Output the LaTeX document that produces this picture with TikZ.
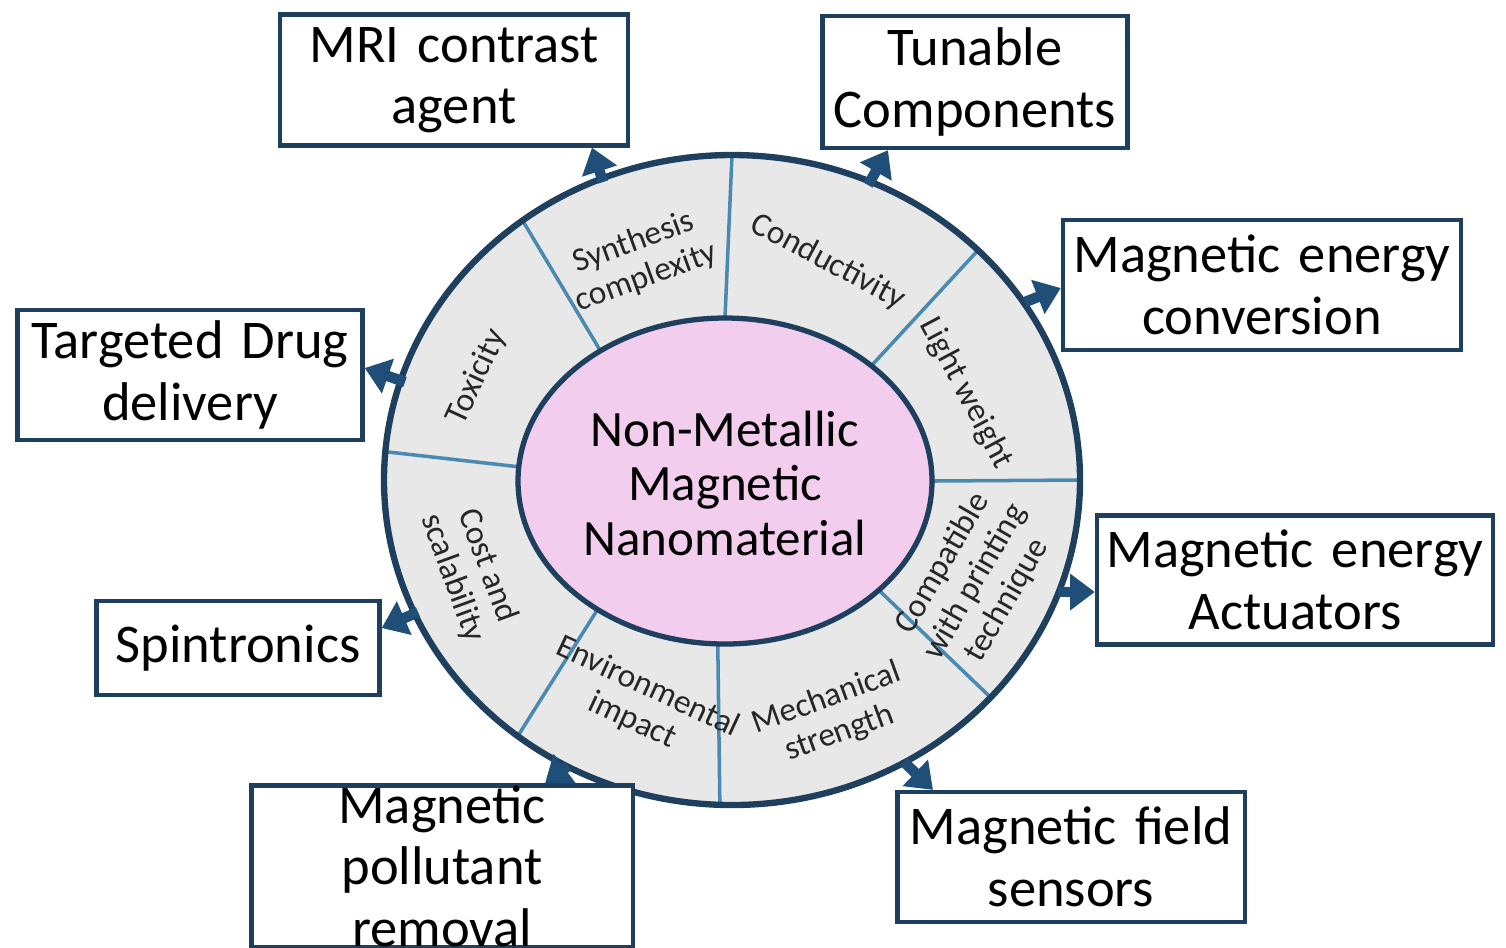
\documentclass[tikz,border=0pt]{standalone}
\usepackage{fontspec}
\setmainfont{Carlito}
\usetikzlibrary{arrows.meta,calc}
\definecolor{navy}{HTML}{1F3F5F}
\definecolor{arr}{HTML}{1F4E79}
\definecolor{seg}{HTML}{E8E8E8}
\definecolor{divl}{HTML}{4A8AB0}
\definecolor{pinkf}{HTML}{F2CDEE}
\begin{document}
\begin{tikzpicture}[x=0.01cm,y=-0.01cm,
 box/.style={draw=navy,line width=1.2pt,fill=white,align=center,font=\fontsize{15.5}{17.5}\selectfont,inner sep=0pt},
 seglab/.style={align=center,font=\fontsize{9.5}{10.5}\selectfont,text=black!85},
 ar/.style={draw=arr,line width=3pt,-{Triangle[length=7pt,width=10pt]}}]
\useasboundingbox (0,0) rectangle (1506,947);
% outer ring
\fill[seg] (732,480) ellipse [x radius=348,y radius=325];
\foreach \a in {90,127,45,0,-42,-92,-128,175}{
 \draw[divl,line width=1pt] ($(725,481)+(\a:207 and -163)$) -- ($(732,480)+(\a:348 and -325)$);}
\draw[navy,line width=1.8pt] (732,480) ellipse [x radius=348,y radius=325];
\filldraw[fill=pinkf,draw=navy,line width=1.5pt] (725,481) ellipse [x radius=207,y radius=163];
\node[align=center,font=\fontsize{14.5}{15.5}\selectfont] (c) at (725,483) {Non-Metallic\\Magnetic\\Nanomaterial};
% segment labels
\node[seglab,rotate=20] (s1) at (640,260) {Synthesis\\complexity};
\node[seglab,rotate=-28] (s2) at (828,262) {Conductivity};
\node[seglab,rotate=-62] (s3) at (966,393) {Light weight};
\node[seglab,rotate=60] (s4) at (975,582) {Compatible\\with printing\\technique};
\node[seglab,rotate=20] (s5) at (833,716) {Mechanical\\strength};
\node[seglab,rotate=-25] (s6) at (640,704) {Environmental\\impact};
\node[seglab,rotate=-70] (s7) at (470,572) {Cost and\\scalability};
\node[seglab,rotate=65] (s8) at (477,377) {Toxicity};
% boxes
\node[box,text width=3.48cm,minimum height=1.31cm] (b1) at (454,80) {MRI contrast\\agent};
\node[box,text width=3.05cm,minimum height=1.32cm] (b2) at (975,82) {Tunable\\Components};
\node[box,text width=3.98cm,minimum height=1.30cm] (b3) at (1262,285) {Magnetic energy\\conversion};
\node[box,text width=3.45cm,minimum height=1.30cm] (b4) at (190,375) {Targeted Drug\\delivery};
\node[box,text width=3.96cm,minimum height=1.29cm] (b5) at (1295,580) {Magnetic energy\\Actuators};
\node[box,text width=2.83cm,minimum height=0.94cm] (b6) at (238,648) {Spintronics};
\node[box,text width=3.81cm,minimum height=1.32cm] (b7) at (442,866) {Magnetic pollutant\\removal};
\node[box,text width=3.47cm,minimum height=1.30cm] (b8) at (1071,857) {Magnetic field\\sensors};
% arrows
\coordinate (p1) at (603,182); \coordinate (p2) at (868,185);
\coordinate (p3) at (1025,302); \coordinate (p4) at (405,382);
\coordinate (p5) at (1058,592); \coordinate (p6) at (418,612);
\coordinate (p7) at (568,766); \coordinate (p8) at (904,762);
\draw[ar] (p1) -- (b1.south -| 592,0);
\draw[ar] (p2) -- (b2.south -| 888,0);
\draw[ar] (p3) -- (b3.west |- 0,288);
\draw[ar] (p4) -- (b4.east |- 0,368);
\draw[ar] (p5) -- (b5.west |- 0,592);
\draw[ar] (p6) -- (b6.east |- 0,628);
\draw[ar] (p7) -- (b7.north -| 545,0);
\draw[ar] (p8) -- (b8.north -| 933,0);
\end{tikzpicture}
\end{document}
